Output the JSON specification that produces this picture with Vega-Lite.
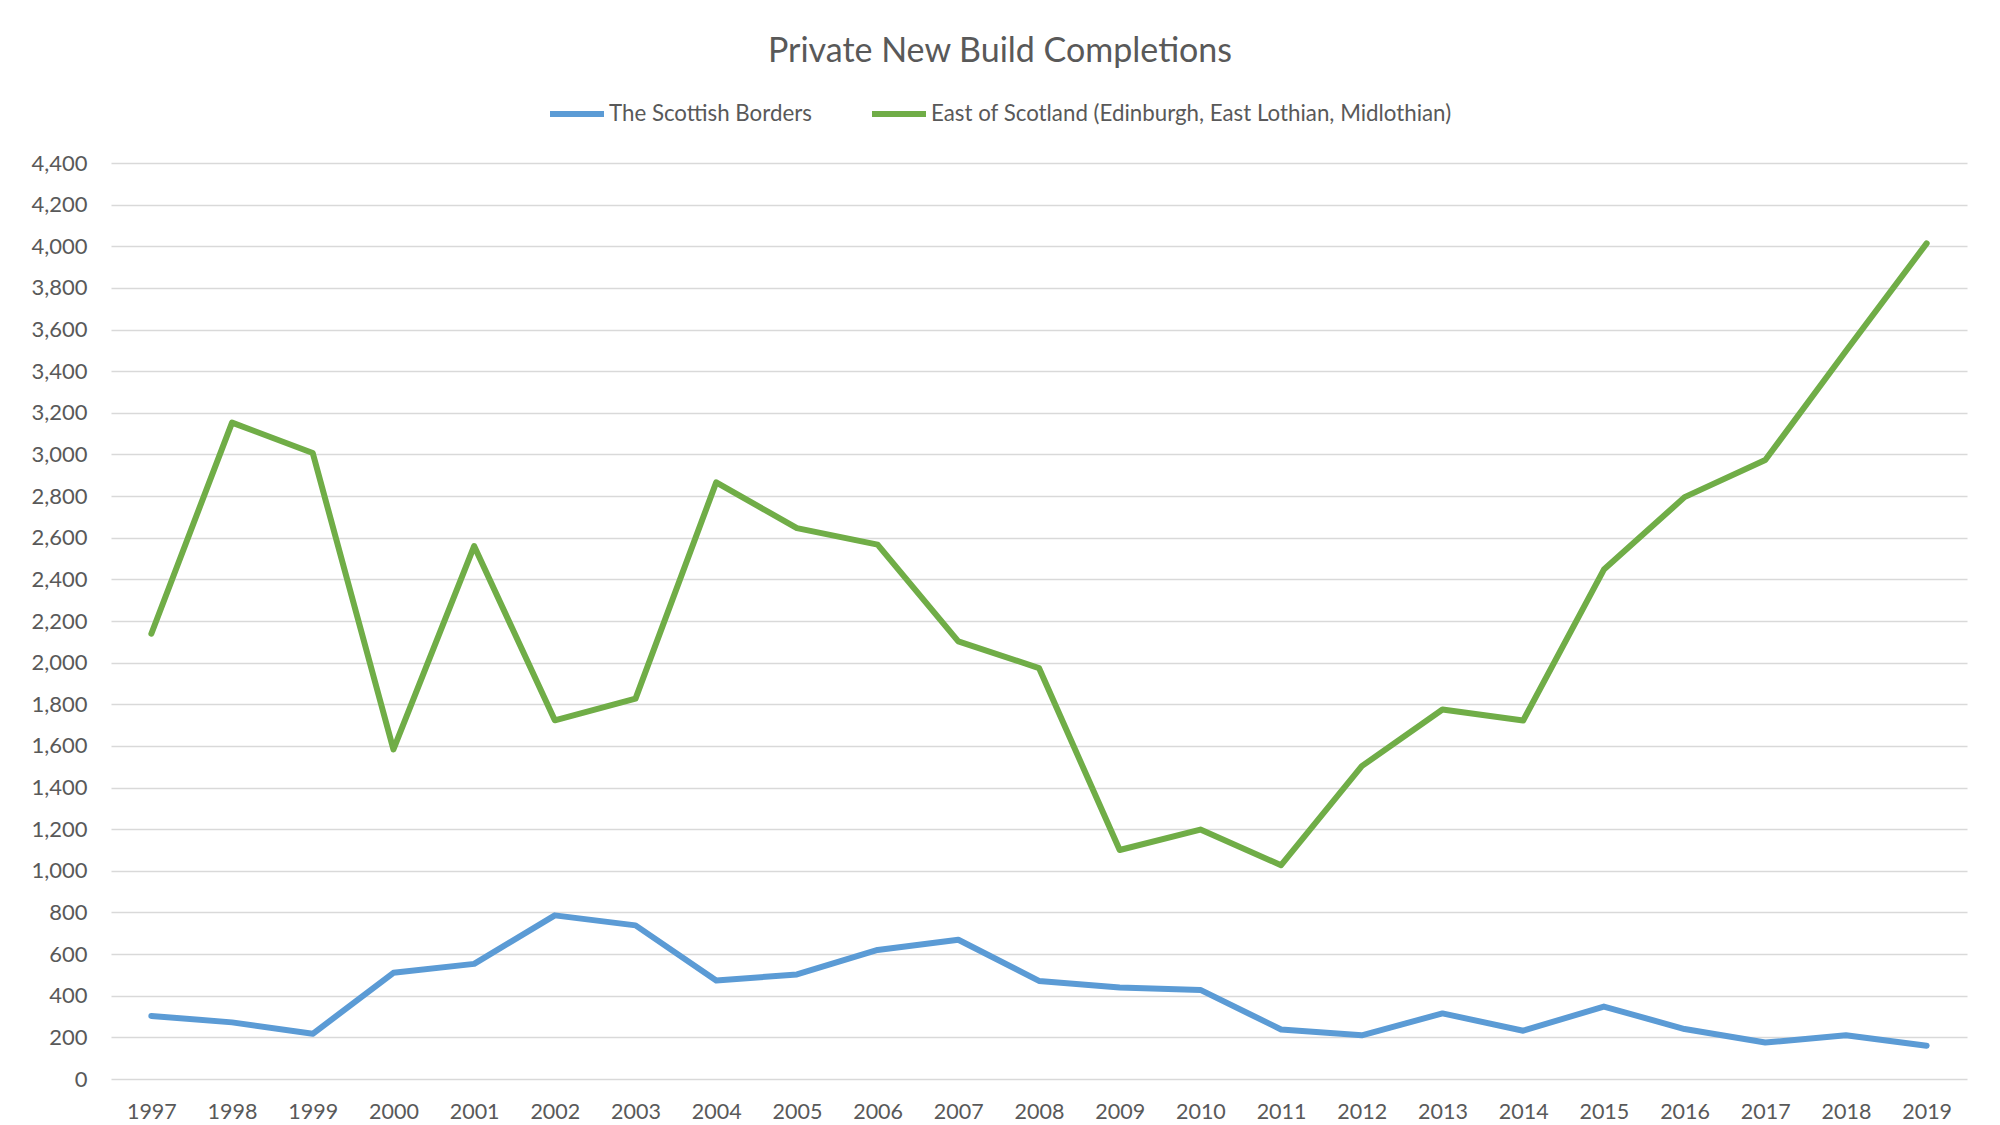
{
  "$schema": "https://vega.github.io/schema/vega-lite/v6.json",
  "width": 1856,
  "height": 916,
  "autosize": {"type": "none"},
  "padding": {"left": 111, "top": 163, "right": 33, "bottom": 46},
  "background": "#FFFFFF",
  "title": {
    "text": "Private New Build Completions",
    "font": "Lato",
    "fontSize": 34,
    "fontWeight": "normal",
    "color": "#595959",
    "anchor": "middle",
    "dx": -39,
    "offset": 15
  },
  "data": {
    "values": [
      {"year": "1997", "series": "The Scottish Borders", "value": 303},
      {"year": "1998", "series": "The Scottish Borders", "value": 272},
      {"year": "1999", "series": "The Scottish Borders", "value": 217},
      {"year": "2000", "series": "The Scottish Borders", "value": 510},
      {"year": "2001", "series": "The Scottish Borders", "value": 553},
      {"year": "2002", "series": "The Scottish Borders", "value": 786},
      {"year": "2003", "series": "The Scottish Borders", "value": 738},
      {"year": "2004", "series": "The Scottish Borders", "value": 473},
      {"year": "2005", "series": "The Scottish Borders", "value": 502},
      {"year": "2006", "series": "The Scottish Borders", "value": 620},
      {"year": "2007", "series": "The Scottish Borders", "value": 669},
      {"year": "2008", "series": "The Scottish Borders", "value": 471},
      {"year": "2009", "series": "The Scottish Borders", "value": 440},
      {"year": "2010", "series": "The Scottish Borders", "value": 428},
      {"year": "2011", "series": "The Scottish Borders", "value": 238},
      {"year": "2012", "series": "The Scottish Borders", "value": 210},
      {"year": "2013", "series": "The Scottish Borders", "value": 315},
      {"year": "2014", "series": "The Scottish Borders", "value": 232},
      {"year": "2015", "series": "The Scottish Borders", "value": 348},
      {"year": "2016", "series": "The Scottish Borders", "value": 240},
      {"year": "2017", "series": "The Scottish Borders", "value": 175},
      {"year": "2018", "series": "The Scottish Borders", "value": 210},
      {"year": "2019", "series": "The Scottish Borders", "value": 160},
      {"year": "1997", "series": "East of Scotland (Edinburgh, East Lothian, Midlothian)", "value": 2139},
      {"year": "1998", "series": "East of Scotland (Edinburgh, East Lothian, Midlothian)", "value": 3153},
      {"year": "1999", "series": "East of Scotland (Edinburgh, East Lothian, Midlothian)", "value": 3007},
      {"year": "2000", "series": "East of Scotland (Edinburgh, East Lothian, Midlothian)", "value": 1583},
      {"year": "2001", "series": "East of Scotland (Edinburgh, East Lothian, Midlothian)", "value": 2560},
      {"year": "2002", "series": "East of Scotland (Edinburgh, East Lothian, Midlothian)", "value": 1723},
      {"year": "2003", "series": "East of Scotland (Edinburgh, East Lothian, Midlothian)", "value": 1827},
      {"year": "2004", "series": "East of Scotland (Edinburgh, East Lothian, Midlothian)", "value": 2866},
      {"year": "2005", "series": "East of Scotland (Edinburgh, East Lothian, Midlothian)", "value": 2646},
      {"year": "2006", "series": "East of Scotland (Edinburgh, East Lothian, Midlothian)", "value": 2567},
      {"year": "2007", "series": "East of Scotland (Edinburgh, East Lothian, Midlothian)", "value": 2102},
      {"year": "2008", "series": "East of Scotland (Edinburgh, East Lothian, Midlothian)", "value": 1974},
      {"year": "2009", "series": "East of Scotland (Edinburgh, East Lothian, Midlothian)", "value": 1100},
      {"year": "2010", "series": "East of Scotland (Edinburgh, East Lothian, Midlothian)", "value": 1198},
      {"year": "2011", "series": "East of Scotland (Edinburgh, East Lothian, Midlothian)", "value": 1027},
      {"year": "2012", "series": "East of Scotland (Edinburgh, East Lothian, Midlothian)", "value": 1503},
      {"year": "2013", "series": "East of Scotland (Edinburgh, East Lothian, Midlothian)", "value": 1775},
      {"year": "2014", "series": "East of Scotland (Edinburgh, East Lothian, Midlothian)", "value": 1722},
      {"year": "2015", "series": "East of Scotland (Edinburgh, East Lothian, Midlothian)", "value": 2447},
      {"year": "2016", "series": "East of Scotland (Edinburgh, East Lothian, Midlothian)", "value": 2795},
      {"year": "2017", "series": "East of Scotland (Edinburgh, East Lothian, Midlothian)", "value": 2973},
      {"year": "2018", "series": "East of Scotland (Edinburgh, East Lothian, Midlothian)", "value": 3497},
      {"year": "2019", "series": "East of Scotland (Edinburgh, East Lothian, Midlothian)", "value": 4014}
    ]
  },
  "mark": {"type": "line", "strokeWidth": 6, "strokeCap": "round", "strokeJoin": "round"},
  "encoding": {
    "x": {
      "field": "year",
      "type": "ordinal",
      "scale": {"type": "point", "padding": 0.5},
      "axis": {
        "title": null,
        "labelAngle": 0,
        "ticks": false,
        "domain": false,
        "grid": false,
        "labelPadding": 22,
        "labelFont": "Lato",
        "labelFontSize": 21.5,
        "labelColor": "#595959"
      }
    },
    "y": {
      "field": "value",
      "type": "quantitative",
      "scale": {"domain": [0, 4400], "nice": false, "zero": true},
      "axis": {
        "title": null,
        "values": [0, 200, 400, 600, 800, 1000, 1200, 1400, 1600, 1800, 2000, 2200, 2400, 2600, 2800, 3000, 3200, 3400, 3600, 3800, 4000, 4200, 4400],
        "format": ",d",
        "ticks": false,
        "domain": false,
        "labelPadding": 24,
        "labelFont": "Lato",
        "labelFontSize": 22,
        "labelColor": "#595959",
        "gridColor": "#D9D9D9",
        "gridWidth": 1.5
      }
    },
    "color": {
      "field": "series",
      "type": "nominal",
      "sort": ["The Scottish Borders", "East of Scotland (Edinburgh, East Lothian, Midlothian)"],
      "scale": {
        "domain": ["The Scottish Borders", "East of Scotland (Edinburgh, East Lothian, Midlothian)"],
        "range": ["#5B9BD5", "#70AD47"]
      },
      "legend": {
        "title": null,
        "orient": "none",
        "direction": "horizontal",
        "legendX": 436,
        "legendY": -79,
        "symbolType": "stroke",
        "symbolSize": 2916,
        "symbolStrokeWidth": 6,
        "labelOffset": 2,
        "columnPadding": 48,
        "labelFont": "Lato",
        "labelFontSize": 22.3,
        "labelColor": "#595959",
        "labelLimit": 1000
      }
    }
  },
  "config": {
    "view": {"stroke": null}
  }
}
